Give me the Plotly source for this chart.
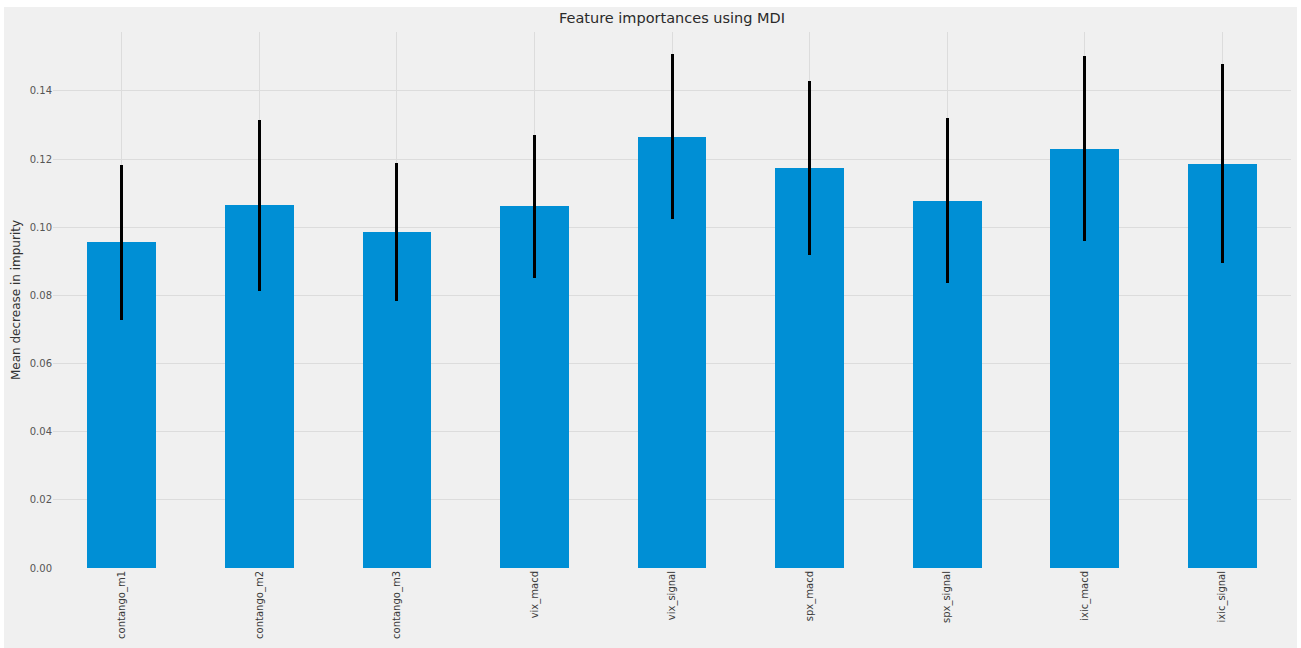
import plotly.graph_objects as go

features = ["contango_m1", "contango_m2", "contango_m3", "vix_macd", "vix_signal",
            "spx_macd", "spx_signal", "ixic_macd", "ixic_signal"]
importances = [0.0956, 0.1064, 0.0986, 0.1061, 0.1266, 0.1173, 0.1078, 0.1231, 0.1187]
std_errors = [0.0228, 0.0250, 0.0202, 0.0211, 0.0242, 0.0255, 0.0242, 0.0271, 0.0292]
y_ticks = [0.00, 0.02, 0.04, 0.06, 0.08, 0.10, 0.12, 0.14]

W, H = 1301, 648
L, R, T, B = 53, 10, 32, 80
pw, ph = W - L - R, H - T - B

fig = go.Figure()
fig.add_trace(go.Bar(
    x=list(range(len(features))), y=importances,
    width=0.5,
    marker=dict(color="#008fd5", line=dict(width=0)),
    error_y=dict(type="data", array=std_errors, visible=True,
                 color="#000000", thickness=3, width=0),
))

def px2paper_x(p):
    return (p - L) / pw

def px2paper_y(p):
    return (H - B - p) / ph

fig.update_layout(
    width=W, height=H,
    margin=dict(l=L, r=R, t=T, b=B, pad=0),
    paper_bgcolor="#f0f0f0", plot_bgcolor="#f0f0f0",
    font=dict(family="DejaVu Sans", color="#444444"),
    title=dict(text="Feature importances using MDI", x=(L + pw / 2) / W, xanchor="center",
               y=1 - 18 / H, yanchor="middle", font=dict(size=14.5, color="#2a2a2a")),
    showlegend=False,
    bargap=0,
)
fig.add_shape(type="rect", xref="paper", yref="paper",
              x0=px2paper_x(-5), x1=px2paper_x(1310),
              y0=px2paper_y(7), y1=px2paper_y(-5),
              fillcolor="#ffffff", line=dict(width=0), layer="below")
fig.add_shape(type="rect", xref="paper", yref="paper",
              x0=px2paper_x(-5), x1=px2paper_x(4),
              y0=px2paper_y(660), y1=px2paper_y(-5),
              fillcolor="#ffffff", line=dict(width=0), layer="below")
fig.add_shape(type="rect", xref="paper", yref="paper",
              x0=px2paper_x(1297), x1=px2paper_x(1310),
              y0=px2paper_y(660), y1=px2paper_y(-5),
              fillcolor="#ffffff", line=dict(width=0), layer="below")

fig.update_xaxes(
    range=[-0.5, 8.5], tickmode="array", tickvals=list(range(len(features))),
    ticktext=features, tickangle=-90, tickfont=dict(size=10, color="#3a3a3a"),
    showgrid=True, gridcolor="#dcdcdc", gridwidth=1, zeroline=False,
    showline=False, ticks="", ticklen=0,
)
fig.update_yaxes(
    range=[0, 0.1573], tickmode="array", tickvals=y_ticks,
    ticktext=[f"{v:.2f}" for v in y_ticks], tickfont=dict(size=10, color="#555555"),
    showgrid=True, gridcolor="#dcdcdc", gridwidth=1, zeroline=False,
    showline=False, ticks="", ticklen=4, tickcolor="rgba(0,0,0,0)",
    title=dict(text="Mean decrease in impurity", font=dict(size=12, color="#333333"), standoff=6),
)

fig.write_html("out.html", config={"displayModeBar": False},
               post_script="document.body.style.margin='0';document.body.style.background='#f0f0f0';")
